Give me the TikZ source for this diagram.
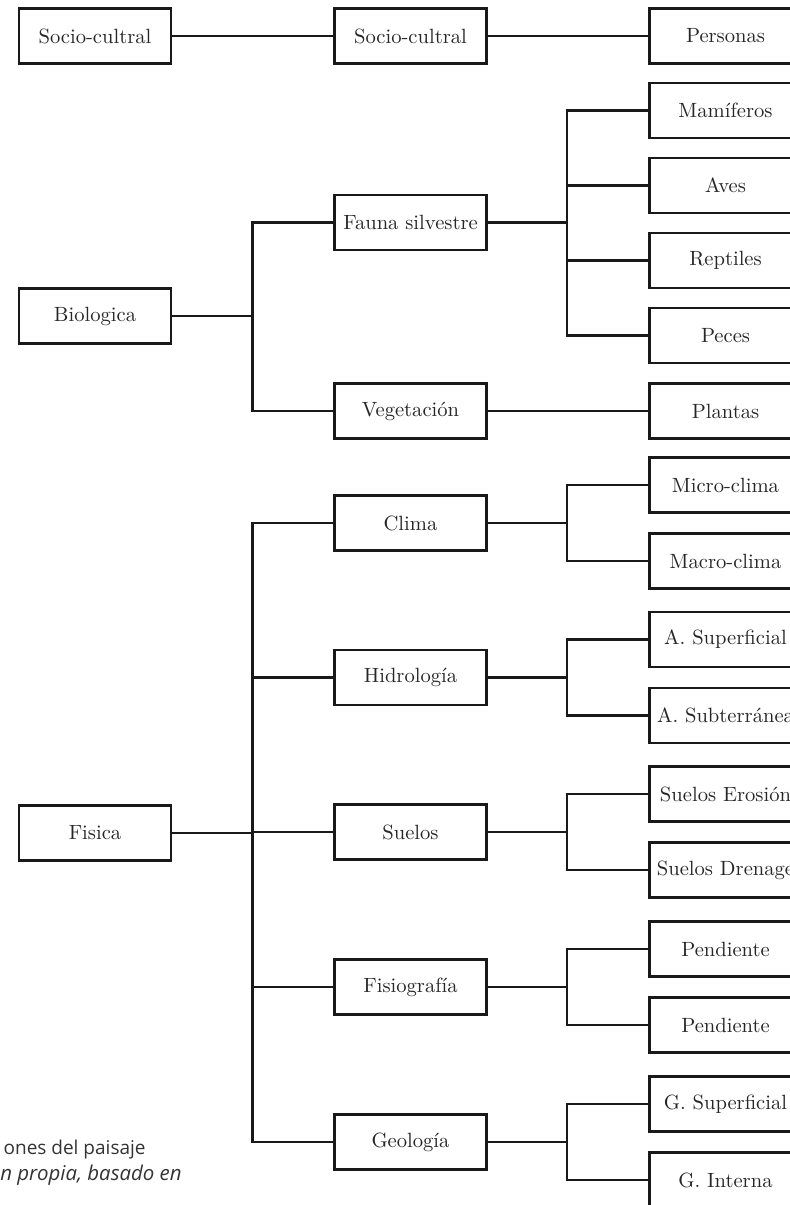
\documentclass[tikz,border=0pt]{standalone}
\usepackage{fontspec}
\newfontfamily\capfont{Open Sans}

\begin{document}
\begin{tikzpicture}[
	x=0.5pt, y=-0.5pt,
	box/.style={draw=black!90, line width=1.3pt, minimum width=76pt, minimum height=27.5pt, inner sep=0pt, text=black!85, font=\fontsize{10.3}{12}\selectfont},
	link/.style={draw=black!90, line width=1.3pt},
	capt/.style={inner sep=0pt, text=black!80, font=\capfont\fontsize{9.5}{11}\selectfont},
]
\useasboundingbox (0,0) rectangle (789,1205);

\begin{scope}[]
%%% SOCIO-CULTRAL
\node [box] (soc) at (95,36) {Socio-cultral};
\node [box] (soc2) at (410.5,36) {Socio-cultral};
\node [box] (pers) at (725.5,36) {Personas};

\draw [link] (soc) -- (soc2);
\draw [link] (soc2) -- (pers);
\end{scope}

\begin{scope}[]
%%% BIOLOGICA
\node [box] (bio) at (95,316) {Biologica};
\node [box] (fauna) at (410.5,222.5) {Fauna silvestre};
\node [box] (veg) at (410.5,411) {Vegetación};

\node [box] (mami) at (725.5,110.5) {Mamíferos};
\node [box] (aves) at (725.5,185.5) {Aves};
\node [box] (rept) at (725.5,260.5) {Reptiles};
\node [box] (peces) at (725.5,335.5) {Peces};
\node [box] (plant) at (725.5,411) {Plantas};

\draw [link] (bio.east) -- ++(80,0) |- (fauna.west);
\draw [link] (bio.east) -- ++(80,0) |- (veg.west);
\foreach \leaf in {mami,aves,rept,peces}
	\draw [link] (fauna.east) -- ++(79,0) |- (\leaf.west);
\draw [link] (veg) -- (plant);
\end{scope}

\begin{scope}[]
%%% FISICA
\node [box] (fis) at (95,833) {Fisica};

\node [box] (clima) at (410.5,523) {Clima};
\node [box] (hidro) at (410.5,677.5) {Hidrología};
\node [box] (suelo) at (410.5,832) {Suelos};
\node [box] (fisio) at (410.5,987) {Fisiografía};
\node [box] (geo) at (410.5,1142) {Geología};

\node [box] (micro) at (725.5,485) {Micro-clima};
\node [box] (macro) at (725.5,561) {Macro-clima};
\node [box] (asup) at (725.5,639.5) {A. Superficial};
\node [box] (asub) at (725.5,715.5) {A. Subterránea};
\node [box] (sero) at (725.5,794) {Suelos Erosión};
\node [box] (sdre) at (725.5,870) {Suelos Drenage};
\node [box] (pend) at (725.5,949) {Pendiente};
\node [box] (pend2) at (725.5,1025) {Pendiente};
\node [box] (gsup) at (725.5,1104) {G. Superficial};
\node [box] (gint) at (725.5,1180) {G. Interna};

\foreach \mid in {clima,hidro,suelo,fisio,geo}
	\draw [link] (fis.east) -- ++(80,0) |- (\mid.west);

\draw [link] (clima.east) -- ++(79,0) |- (micro.west);
\draw [link] (clima.east) -- ++(79,0) |- (macro.west);
\draw [link] (hidro.east) -- ++(79,0) |- (asup.west);
\draw [link] (hidro.east) -- ++(79,0) |- (asub.west);
\draw [link] (suelo.east) -- ++(79,0) |- (sero.west);
\draw [link] (suelo.east) -- ++(79,0) |- (sdre.west);
\draw [link] (fisio.east) -- ++(79,0) |- (pend.west);
\draw [link] (fisio.east) -- ++(79,0) |- (pend2.west);
\draw [link] (geo.east) -- ++(79,0) |- (gsup.west);
\draw [link] (geo.east) -- ++(79,0) |- (gint.west);
\end{scope}

%%% caption, cut at the left edge
\node [capt, anchor=base east] (capA) at (146,1154) {ones del paisaje};
\node [capt, anchor=base east, font=\capfont\itshape\fontsize{10.2}{12}\selectfont] (capB) at (182,1180) {n propia, basado en};

\end{tikzpicture}
\end{document}
